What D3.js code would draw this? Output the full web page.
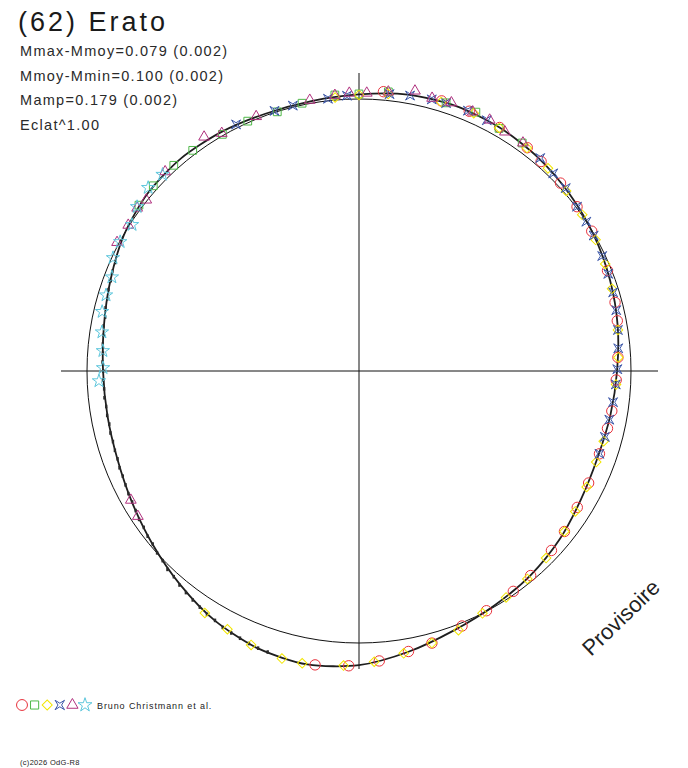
<!DOCTYPE html>
<html>
<head>
<meta charset="utf-8">
<script src="https://cdn.jsdelivr.net/npm/d3@7"></script>
<style>
  body { margin: 0; background: #fff; }
  svg { display: block; font-family: "Liberation Sans", Arial, sans-serif; }
</style>
</head>
<body>
<svg id="drawing_region"></svg>
<script>
// model light curve: phase in degrees (0 at top, clockwise), magnitude relative to mean
const modelPhase = [0, 10, 20, 30, 40, 50, 60, 70, 80, 90, 100, 110, 120, 130, 140, 150, 160, 170,
                    180, 190, 200, 210, 220, 230, 240, 250, 260, 270, 280, 290, 300, 310, 320, 330, 340, 350];
const modelDmag = [-0.018, -0.034, -0.040, -0.036, -0.026, -0.012, 0.003, 0.020, 0.038, 0.057, 0.069, 0.075,
                   0.064, 0.041, 0.021, 0.005, -0.017, -0.051, -0.085, -0.099, -0.089, -0.063, -0.026, 0.010,
                   0.040, 0.061, 0.068, 0.066, 0.053, 0.030, 0.002, -0.016, -0.021, -0.015, -0.007, -0.008];

// observations, one pair of arrays per session
const redPhase = [5, 17, 23, 30, 37, 41, 47, 53, 59, 68, 75, 79, 87, 92, 99, 103, 109, 116, 122, 128,
                  133, 140, 145, 152, 158, 165, 170, 176, 182, 188.5];
const redDmag = [-0.033, -0.041, -0.040, -0.036, -0.030, -0.022, -0.014, -0.004, 0.002, 0.016, 0.028, 0.036,
                 0.052, 0.060, 0.066, 0.070, 0.073, 0.068, 0.060, 0.046, 0.036, 0.020, 0.012, 0.002, -0.012,
                 -0.038, -0.050, -0.072, -0.088, -0.096];

const greenPhase = [307, 312, 318, 323, 330, 336, 342.5, 348, 355, 0, 6, 18, 24.3, 30, 35.6];
const greenDmag = [-0.014, -0.019, -0.019, -0.017, -0.005, -0.006, 0.001, -0.007, -0.020, -0.020, -0.034,
                   -0.039, -0.047, -0.032, -0.033];

const yellowPhase = [355, 0, 6, 17, 24, 30, 37, 43, 49, 55, 61, 66.5, 72, 81, 87, 93, 106, 111, 117, 123,
                     128, 135, 141, 147, 153, 159, 165, 171, 177, 183, 191, 195, 201.5, 207, 212.5];
const yellowDmag = [-0.010, -0.016, -0.026, -0.036, -0.040, -0.034, -0.028, -0.020, -0.010, -0.002, 0.006,
                    0.014, 0.024, 0.040, 0.050, 0.060, 0.072, 0.074, 0.068, 0.058, 0.046, 0.030, 0.018, 0.008,
                    0.000, -0.022, -0.038, -0.054, -0.074, -0.088, -0.098, -0.098, -0.086, -0.069, -0.058];

const bluePhase = [333.5, 342, 346, 353.5, 357.5, 6.3, 10.5, 15, 18, 22.7, 27, 40.4, 44.5, 48.5, 53, 56.7,
                   60, 64.7, 68.7, 72.8, 76.7, 81, 85, 89.6, 93, 97, 101, 105, 109];
const blueDmag = [-0.014, -0.006, -0.006, -0.008, -0.014, -0.026, -0.032, -0.036, -0.038, -0.040, -0.037,
                  -0.030, -0.020, -0.016, -0.004, 0.000, 0.004, 0.012, 0.018, 0.024, 0.031, 0.040, 0.048,
                  0.056, 0.061, 0.066, 0.070, 0.072, 0.073];

const purplePhase = [236.7, 240.5, 298, 302.3, 306.3, 308.8, 315.8, 326.5, 330, 338, 349.7, 355, 358, 1.6,
                     6, 11.3, 15, 19, 23.7, 27.5, 31.4, 35.7];
const purpleDmag = [0.030, 0.040, -0.008, -0.004, -0.013, -0.004, -0.024, -0.034, -0.010, -0.010, -0.013,
                    -0.019, -0.024, -0.024, -0.034, -0.053, -0.041, -0.046, -0.043, -0.043, -0.032, -0.035];

const cyanPhase = [267.8, 270.7, 274.5, 278.6, 283, 286.7, 290.8, 294.7, 298.4, 302.8, 306.5, 311, 315];
const cyanDmag = [0.048, 0.066, 0.062, 0.049, 0.034, 0.032, 0.031, 0.005, 0.002, 0.008, -0.016, -0.029, -0.023];

// dense unmarked photometry (small black dots along the lower left)
const blackPhase = [198, 200, 202, 204, 206, 208, 210, 212, 214, 216, 218, 220, 222, 224, 226, 228, 230,
                    232, 234, 236, 238, 240, 242, 244, 246, 248, 250, 252, 254, 256, 258, 260, 262, 264,
                    266, 268, 270, 272, 274, 276, 278, 280, 282, 284, 286, 288, 290, 292, 294];
const blackDmag = [-0.090, -0.088, -0.084, -0.079, -0.075, -0.071, -0.062, -0.058, -0.050, -0.043, -0.036,
                   -0.029, -0.019, -0.015, -0.004, 0.001, 0.011, 0.015, 0.024, 0.027, 0.035, 0.041, 0.044,
                   0.050, 0.055, 0.056, 0.062, 0.063, 0.066, 0.065, 0.069, 0.067, 0.069, 0.066, 0.068,
                   0.065, 0.067, 0.063, 0.063, 0.059, 0.058, 0.052, 0.051, 0.044, 0.041, 0.035, 0.032,
                   0.024, 0.021];

const titleText = "(62) Erato";
const statLines = ["Mmax-Mmoy=0.079 (0.002)", "Mmoy-Mmin=0.100 (0.002)", "Mamp=0.179 (0.002)", "Eclat^1.00"];
const legendText = "Bruno Christmann et al.";
const footerText = "(c)2026 OdG-R8";
const stampText = "Provisoire";

// concave four pointed star (points on the diagonals)
const symbolBowtie = {
    draw(context, size) {
        const s = Math.sqrt(size) * 0.58, i = s * 0.38;
        context.moveTo(-s, -s);
        context.lineTo(0, -i);
        context.lineTo(s, -s);
        context.lineTo(i, 0);
        context.lineTo(s, s);
        context.lineTo(0, i);
        context.lineTo(-s, s);
        context.lineTo(-i, 0);
        context.closePath();
    }
};

const series = [
    { phase: redPhase, dmag: redDmag, color: '#e8323c', type: d3.symbolCircle, size: 85, rot: 0 },
    { phase: greenPhase, dmag: greenDmag, color: '#4fb848', type: d3.symbolSquare, size: 60, rot: 0 },
    { phase: yellowPhase, dmag: yellowDmag, color: '#f2e600', type: d3.symbolSquare, size: 46, rot: 45 },
    { phase: bluePhase, dmag: blueDmag, color: '#3a55a8', type: symbolBowtie, size: 60, rot: 0 },
    { phase: purplePhase, dmag: purpleDmag, color: '#b0307e', type: d3.symbolTriangle, size: 50, rot: 0 },
    { phase: cyanPhase, dmag: cyanDmag, color: '#5cc6dc', type: d3.symbolStar, size: 55, rot: 0 },
];

class PolarCurve {

    constructor( config ) {
        this.config = {
            parent: config.parent,
            width: config.width || 688,
            height: config.height || 768,
            cx: config.cx, cy: config.cy,
            radius: config.radius,
            axisLength: config.axisLength
        };
        this.init();
    }

    init() {
        let self = this;

        self.svg = d3.select( self.config.parent )
            .attr('width', self.config.width)
            .attr('height', self.config.height);

        self.chart = self.svg.append('g')
            .attr('transform', `translate(${self.config.cx}, ${self.config.cy})`);

        // radius proportional to flux, mean flux on the reference circle
        self.rScale = d3.scaleLinear().domain([0, 1]).range([0, self.config.radius]);
        self.aScale = d3.scaleLinear().domain([0, 360]).range([0, 2 * Math.PI]);
        self.flux = dm => Math.pow(10, -0.4 * dm);
        self.pos = d => {
            const r = self.rScale(self.flux(d.m));
            const a = self.aScale(d.p);
            return [r * Math.sin(a), -r * Math.cos(a)];
        };
    }

    render() {
        let self = this;
        const L = self.config.axisLength;

        self.chart.append('line')
            .attr('x1', -L).attr('x2', L + 1).attr('y1', 0).attr('y2', 0)
            .attr('stroke', '#111').attr('stroke-width', 1);
        self.chart.append('line')
            .attr('y1', -L).attr('y2', L).attr('x1', 0).attr('x2', 0)
            .attr('stroke', '#111').attr('stroke-width', 1);

        self.chart.append('circle')
            .attr('r', self.rScale(1))
            .attr('fill', 'none')
            .attr('stroke', '#111')
            .attr('stroke-width', 1);

        const model = modelPhase.map( (p, i) => ({ p: p, m: modelDmag[i] }) );
        const line = d3.lineRadial()
            .angle( d => self.aScale(d.p) )
            .radius( d => self.rScale(self.flux(d.m)) )
            .curve( d3.curveCardinalClosed.tension(0.2) );

        self.chart.append('path')
            .datum(model)
            .attr('d', line)
            .attr('fill', 'none')
            .attr('stroke', '#1e1e1e')
            .attr('stroke-width', 1.8);

        const dots = blackPhase.map( (p, i) => ({ p: p, m: blackDmag[i] }) );
        self.chart.append('g').selectAll('rect')
            .data(dots)
            .enter()
            .append('rect')
            .attr('x', d => self.pos(d)[0] - 1.2)
            .attr('y', d => self.pos(d)[1] - 1.8)
            .attr('width', 2.4)
            .attr('height', 3.6)
            .attr('fill', '#2a2a2a');

        series.forEach( s => {
            const pts = s.phase.map( (p, i) => ({ p: p, m: s.dmag[i] }) );
            const sym = d3.symbol().type(s.type).size(s.size);
            self.chart.append('g').selectAll('path')
                .data(pts)
                .enter()
                .append('path')
                .attr('d', sym)
                .attr('transform', d => {
                    const xy = self.pos(d);
                    return `translate(${xy[0]}, ${xy[1]}) rotate(${s.rot})`;
                })
                .attr('fill', 'none')
                .attr('stroke', s.color)
                .attr('stroke-width', 1);
        });

        // texts
        self.svg.append('text')
            .attr('x', 18).attr('y', 31)
            .attr('font-size', '27px')
            .attr('letter-spacing', '3px')
            .attr('fill', '#1a1a1a')
            .text(titleText);

        self.svg.selectAll('.stat')
            .data(statLines)
            .enter()
            .append('text')
            .attr('class', 'stat')
            .attr('x', 20)
            .attr('y', (d, i) => 56 + i * 24.7)
            .attr('font-size', '14.5px')
            .attr('letter-spacing', '1.3px')
            .attr('fill', '#2a2a2a')
            .text(d => d);

        const legend = self.svg.append('g');
        series.forEach( (s, i) => {
            legend.append('path')
                .attr('d', d3.symbol().type(s.type).size(s.size * 1.1))
                .attr('transform', `translate(${22 + i * 12.6}, 705) rotate(${s.rot})`)
                .attr('fill', 'none')
                .attr('stroke', s.color)
                .attr('stroke-width', 1);
        });
        legend.append('text')
            .attr('x', 97).attr('y', 709)
            .attr('font-size', '9px')
            .attr('letter-spacing', '0.9px')
            .attr('fill', '#222')
            .text(legendText);

        self.svg.append('text')
            .attr('x', 20).attr('y', 765)
            .attr('font-size', '7.5px')
            .attr('letter-spacing', '0.3px')
            .attr('fill', '#222')
            .text(footerText);

        self.svg.append('text')
            .attr('transform', 'translate(591, 657) rotate(-44)')
            .attr('font-size', '22px')
            .attr('fill', '#222')
            .text(stampText);
    }
}

const chart = new PolarCurve({
    parent: '#drawing_region',
    width: 688,
    height: 768,
    cx: 359, cy: 371,
    radius: 272,
    axisLength: 298
});
chart.render();
</script>
</body>
</html>
